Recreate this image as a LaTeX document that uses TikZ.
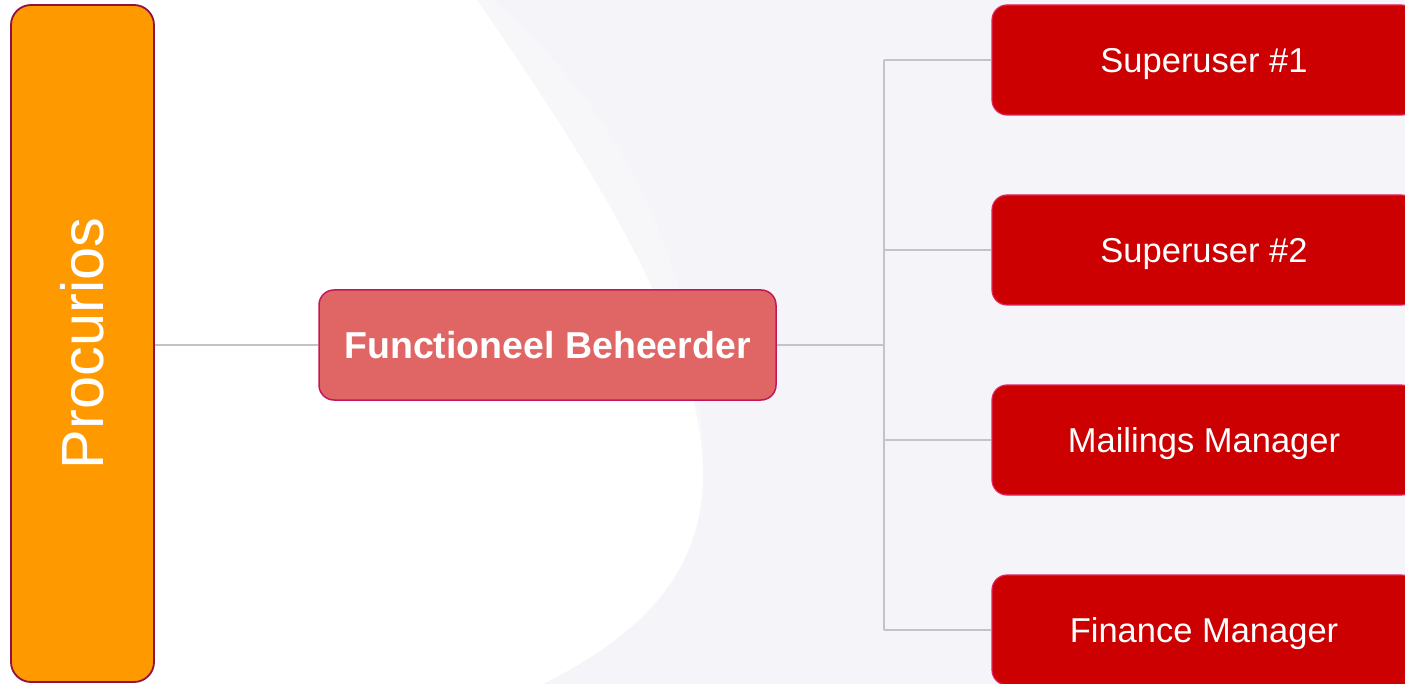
\documentclass[tikz,border=0pt]{standalone}
\usepackage{fontspec}
\setmainfont{Liberation Sans}
\definecolor{bgc}{HTML}{F4F4F9}
\definecolor{bgmid}{HTML}{F7F7FA}
\definecolor{orangefill}{HTML}{FF9900}
\definecolor{orangeline}{HTML}{8E1440}
\definecolor{fbfill}{HTML}{E06666}
\definecolor{fbline}{HTML}{C2185B}
\definecolor{rolefill}{HTML}{CC0000}
\definecolor{roleline}{HTML}{E0245E}
\definecolor{conn}{HTML}{C4C4C4}
\tikzset{
  procbox/.style={draw=orangeline, fill=orangefill, line width=1.8pt, rounded corners=20pt,
    minimum width=143pt, minimum height=677pt, inner sep=0pt},
  proclabel/.style={rotate=90, text=white, font=\fontsize{59.5}{66}\selectfont,
    text height=42.6pt, text depth=0pt, inner sep=0pt},
  fbbox/.style={draw=fbline, fill=fbfill, line width=1.5pt, rounded corners=15pt,
    minimum width=457pt, minimum height=110pt, inner sep=0pt, text=white,
    font=\bfseries\fontsize{37.5}{44}\selectfont, text height=26.9pt, text depth=0pt},
  rolebox/.style={draw=roleline, fill=rolefill, line width=1.2pt, rounded corners=15pt,
    minimum width=424pt, minimum height=110pt, inner sep=0pt, text=white,
    font=\fontsize{34.5}{41}\selectfont, text height=24.7pt, text depth=0pt},
  connector/.style={draw=conn, line width=1.5pt}
}
\begin{document}
\begin{tikzpicture}[x=1pt, y=-1pt]
\useasboundingbox (0,0) rectangle (1405,684);
\clip (0,0) rectangle (1405,684);
% background
\fill[bgc] (0,0) rectangle (1405,684);
\fill[bgmid] (0,0) -- (492,0) .. controls (610,100) and (702,250) .. (703,470)
  .. controls (705,580) and (630,640) .. (543,684) -- (0,684) -- cycle;
\fill[white] (0,0) -- (477,0) .. controls (580,150) and (700,330) .. (703,470)
  .. controls (705,580) and (630,640) .. (543,684) -- (0,684) -- cycle;
% nodes
\node[fbbox] (fb) at (547.5,345) {Functioneel Beheerder};
\node[rolebox] (s1) at (1204,60) {Superuser \#1};
\node[rolebox] (s2) at (1204,250) {Superuser \#2};
\node[rolebox] (s3) at (1204,440) {Mailings Manager};
\node[rolebox] (s4) at (1204,630) {Finance Manager};
\node[procbox] (proc) at (82.5,343.5) {};
\node[proclabel] (proctext) at (proc.center) {Procurios};
\coordinate (j) at (884,345);
% connectors
\draw[connector] (proc.east |- fb.west) -- (fb.west);
\draw[connector] (fb.east) -- (j);
\draw[connector] (j |- s1.west) -- (j |- s4.west);
\draw[connector] (j |- s1.west) -- (s1.west);
\draw[connector] (j |- s2.west) -- (s2.west);
\draw[connector] (j |- s3.west) -- (s3.west);
\draw[connector] (j |- s4.west) -- (s4.west);
\end{tikzpicture}
\end{document}
